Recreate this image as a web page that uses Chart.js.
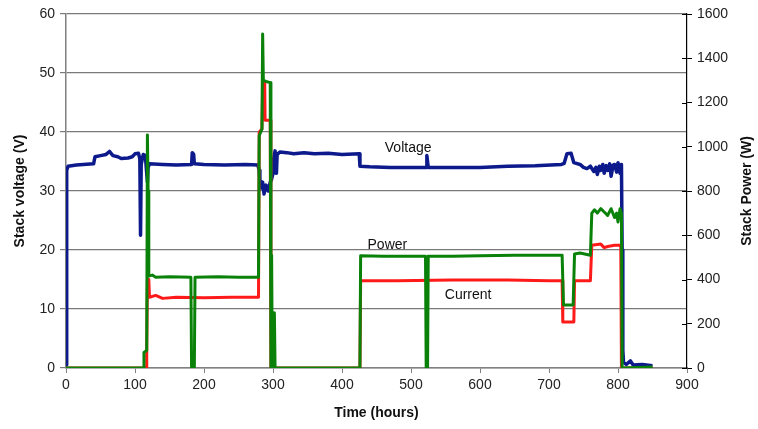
<!DOCTYPE html>
<html>
<head>
<meta charset="utf-8">
<script src="https://cdn.jsdelivr.net/npm/chart.js@4/dist/chart.umd.min.js"></script>
<style>
  html, body { margin: 0; padding: 0; background: #ffffff; }
  #wrap { width: 758px; height: 429px; position: relative; }
</style>
</head>
<body>
<div id="wrap"><canvas id="c" width="758" height="429"></canvas></div>
<script>
// Stack voltage (V) over time (hours)
const voltageTime = [0, 1, 3, 15, 25, 40, 42, 50, 58, 63, 68, 75, 80, 90, 96, 100, 105, 107, 108, 109, 112, 115, 117, 118, 119, 121, 140, 160, 182, 183, 185, 186, 200, 230, 260, 278, 280, 281, 283, 285, 287, 290, 293, 296, 298, 300, 301, 303, 305, 306, 310, 320, 330, 345, 360, 380, 400, 425, 426, 440, 470, 500, 522, 523, 525, 560, 600, 640, 680, 718, 722, 726, 732, 736, 745, 750, 755, 760, 765, 768, 770, 773, 775, 778, 780, 783, 785, 788, 790, 793, 795, 798, 800, 803, 805, 806, 807, 808, 812, 818, 822, 835, 850];
const voltageValues = [0.5, 33.5, 34.2, 34.4, 34.5, 34.6, 35.8, 36.0, 36.2, 36.7, 36.0, 35.8, 35.5, 35.6, 35.8, 36.3, 36.4, 35.5, 22.5, 34.5, 36.2, 36.0, 33.0, 31.5, 34.0, 34.6, 34.5, 34.4, 34.5, 36.5, 36.2, 34.6, 34.5, 34.4, 34.5, 34.4, 33.5, 32.0, 30.5, 31.5, 29.5, 31.0, 30.0, 31.5, 32.0, 33.0, 35.5, 36.8, 33.0, 36.2, 36.6, 36.5, 36.3, 36.5, 36.3, 36.4, 36.2, 36.3, 34.2, 34.1, 34.0, 34.0, 34.0, 36.0, 34.0, 34.0, 34.0, 34.2, 34.3, 34.5, 34.7, 36.3, 36.4, 34.8, 34.5, 34.0, 33.8, 34.2, 33.3, 34.0, 32.8, 34.2, 33.5, 34.5, 33.0, 34.3, 33.5, 34.6, 32.5, 34.4, 34.5, 33.2, 34.8, 33.0, 34.5, 20.0, 3.0, 1.0, 0.6, 1.2, 0.5, 0.6, 0.4];

// Stack current (A), plotted on the voltage axis
const currentTime = [0, 116, 117, 118, 120, 121, 130, 140, 160, 200, 240, 279, 280, 284, 285, 288, 288.5, 296, 297, 426, 427, 480, 560, 640, 700, 719, 720, 736, 737, 760, 762, 775, 780, 785, 795, 804, 805, 850];
const currentValues = [0, 0, 3, 15, 15, 12, 12.3, 11.8, 12, 11.9, 12, 12, 40, 40.5, 48.3, 48.3, 42, 42, 0, 0, 14.8, 14.8, 14.9, 14.9, 14.8, 14.8, 7.8, 7.8, 14.8, 14.8, 20.8, 21.0, 20.4, 20.6, 20.8, 20.8, 0, 0];

// Stack power (W)
const powerTime = [0, 112, 113, 117, 118, 119, 120, 125, 130, 150, 181, 182, 186, 187, 220, 250, 279, 280, 284, 285, 286, 290, 296, 297, 298, 299, 300, 301, 302, 303, 426, 427, 460, 500, 521, 522, 524, 525, 560, 600, 650, 700, 719, 721, 735, 737, 745, 760, 762, 766, 770, 775, 780, 785, 790, 795, 798, 800, 803, 805, 806, 850];
const powerValues = [0, 0, 70, 80, 1053, 800, 415, 420, 410, 412, 410, 0, 0, 410, 412, 410, 410, 1050, 1080, 1510, 1300, 1295, 1290, 0, 510, 0, 240, 0, 250, 0, 0, 507, 505, 505, 505, 0, 0, 505, 505, 507, 510, 510, 510, 285, 285, 515, 520, 510, 700, 715, 700, 720, 705, 690, 720, 680, 700, 660, 720, 700, 0, 5];

// Axis ticks
const timeTicks = [0, 100, 200, 300, 400, 500, 600, 700, 800, 900];
const voltageTicks = [0, 10, 20, 30, 40, 50, 60];
const powerTicks = [0, 200, 400, 600, 800, 1000, 1200, 1400, 1600];

// In-plot series labels (anchor in data units: time, volts)
const seriesLabels = [
  { text: 'Voltage', t: 462, v: 37.3 },
  { text: 'Power', t: 437, v: 20.9 },
  { text: 'Current', t: 549, v: 12.3 }
];

const pairs = (xs, ys) => xs.map((x, i) => ({ x: x, y: ys[i] }));

const FONT = 'Liberation Sans, Arial, sans-serif';

const labelPlugin = {
  id: 'seriesLabels',
  afterDatasetsDraw(chart) {
    const ctx = chart.ctx;
    const xs = chart.scales.x, ys = chart.scales.yV;
    ctx.save();
    ctx.font = '14px ' + FONT;
    ctx.fillStyle = '#111111';
    ctx.textAlign = 'left';
    ctx.textBaseline = 'middle';
    seriesLabels.forEach(l => ctx.fillText(l.text, xs.getPixelForValue(l.t), ys.getPixelForValue(l.v)));
    ctx.restore();
  }
};

// Right axis: tick marks crossing the axis line, and a title reading bottom-to-top
const rightAxisExtras = {
  id: 'rightAxisExtras',
  afterDraw(chart) {
    const s = chart.scales.yP;
    const ctx = chart.ctx;
    ctx.save();
    ctx.strokeStyle = '#000000';
    ctx.lineWidth = 1;
    s.ticks.forEach((t, i) => {
      const y = Math.round(s.getPixelForTick(i)) + 0.5;
      ctx.beginPath();
      ctx.moveTo(s.left - 5, y);
      ctx.lineTo(s.left, y);
      ctx.stroke();
    });
    const area = chart.chartArea;
    ctx.translate(s.right - 11, (area.top + area.bottom) / 2);
    ctx.rotate(-Math.PI / 2);
    ctx.font = 'bold 14px ' + FONT;
    ctx.fillStyle = '#111111';
    ctx.textAlign = 'center';
    ctx.textBaseline = 'middle';
    ctx.fillText('Stack Power (W)', 0, 0);
    ctx.restore();
  }
};

new Chart(document.getElementById('c'), {
  type: 'line',
  data: {
    datasets: [
      { label: 'Power', data: pairs(powerTime, powerValues), yAxisID: 'yP', borderColor: '#0a820a', borderWidth: 3, order: 0 },
      { label: 'Current', data: pairs(currentTime, currentValues), yAxisID: 'yV', borderColor: '#ff1a1a', borderWidth: 3, order: 1 },
      { label: 'Voltage', data: pairs(voltageTime, voltageValues), yAxisID: 'yV', borderColor: '#0c1a8c', borderWidth: 3.5, order: 2 }
    ]
  },
  options: {
    responsive: false,
    animation: false,
    elements: { point: { radius: 0, hoverRadius: 0 }, line: { tension: 0, borderJoinStyle: 'round', borderCapStyle: 'butt' } },
    layout: { padding: { top: 14, left: 0, right: 0, bottom: 0 } },
    plugins: { legend: { display: false }, tooltip: { enabled: false } },
    scales: {
      x: {
        type: 'linear', min: 0, max: 900,
        afterBuildTicks: s => { s.ticks = timeTicks.map(v => ({ value: v })); },
        afterFit: s => { s.height = 61; },
        grid: { drawOnChartArea: false, drawTicks: true, tickLength: 5, color: '#808080' },
        border: { color: '#808080', width: 1.5 },
        ticks: { color: '#222', font: { family: FONT, size: 14 }, padding: 4, maxRotation: 0, callback: v => String(v) },
        title: { display: true, text: 'Time (hours)', color: '#111', font: { family: FONT, size: 14, weight: 'bold' }, padding: { top: 0, bottom: 7 } }
      },
      yV: {
        type: 'linear', position: 'left', min: 0, max: 60,
        afterBuildTicks: s => { s.ticks = voltageTicks.map(v => ({ value: v })); },
        afterFit: s => { s.width = 66; },
        grid: { drawOnChartArea: true, drawTicks: true, tickLength: 6, color: '#7a7a7a', lineWidth: 1.2 },
        border: { color: '#808080', width: 1.5 },
        ticks: { color: '#222', font: { family: FONT, size: 14 }, padding: 5, callback: v => String(v) },
        title: { display: true, text: 'Stack voltage (V)', color: '#111', font: { family: FONT, size: 14, weight: 'bold' }, padding: { top: 12, bottom: 0 } }
      },
      yP: {
        type: 'linear', position: 'right', min: 0, max: 1600,
        afterBuildTicks: s => { s.ticks = powerTicks.map(v => ({ value: v })); },
        afterFit: s => { s.width = 71; },
        grid: { drawOnChartArea: false, drawTicks: true, tickLength: 5, color: '#000000' },
        border: { color: '#000000', width: 1.2 },
        ticks: { color: '#222', font: { family: FONT, size: 14 }, padding: 5, callback: v => String(v) },
        title: { display: false }
      }
    }
  },
  plugins: [labelPlugin, rightAxisExtras]
});
</script>
</body>
</html>
